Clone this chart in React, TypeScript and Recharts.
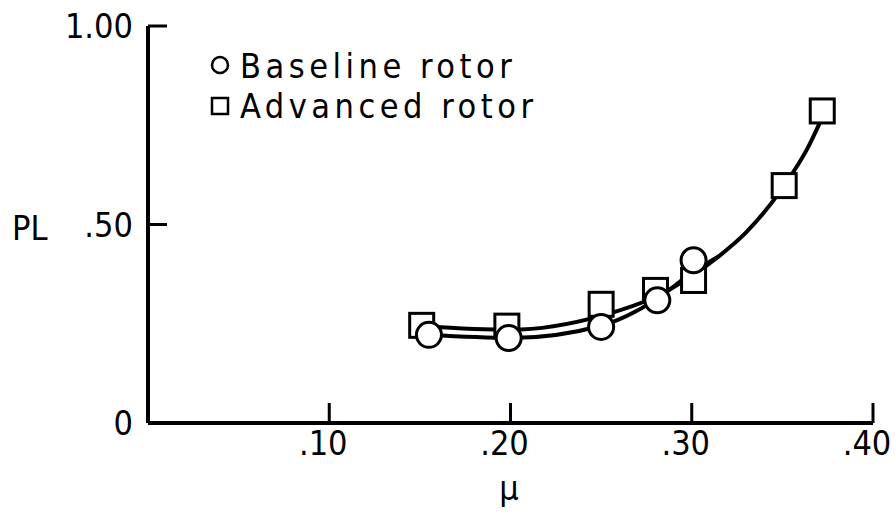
import React from 'react';
import { ComposedChart, Line, Scatter, XAxis, YAxis } from 'recharts';

// measured points
const baselineMu = [0.155, 0.199, 0.25, 0.281, 0.301];
const baselinePL = [0.222, 0.214, 0.242, 0.309, 0.41];
const advancedMu = [0.151, 0.198, 0.25, 0.28, 0.301, 0.351, 0.372];
const advancedPL = [0.246, 0.244, 0.299, 0.334, 0.359, 0.598, 0.786];

// faired curves
const baselineFitMu = [0.155, 0.2, 0.25, 0.28, 0.3, 0.315];
const baselineFitPL = [0.222, 0.214, 0.245, 0.31, 0.378, 0.42];
const advancedFitMu = [0.152, 0.2, 0.25, 0.28, 0.3, 0.315, 0.33, 0.351, 0.364, 0.372];
const advancedFitPL = [0.244, 0.235, 0.27, 0.318, 0.37, 0.42, 0.48, 0.598, 0.693, 0.77];

const xTicks = [0, 0.1, 0.2, 0.3, 0.4];
const xTickLabels = ['', '.10', '.20', '.30', '.40'];
const yTicks = [0, 0.5, 1];
const yTickLabels = ['0', '.50', '1.00'];

const FONT = "'DejaVu Sans Condensed', 'Liberation Sans Narrow', sans-serif";
const INK = '#000';

const zip = (xs: number[], ys: number[]) => xs.map((x, i) => ({ x, y: ys[i] }));

const baselinePts = zip(baselineMu, baselinePL);
const advancedPts = zip(advancedMu, advancedPL);
const baselineFit = zip(baselineFitMu, baselineFitPL);
const advancedFit = zip(advancedFitMu, advancedFitPL);

const XTick = ({ x, y, payload }: any) => {
  const label = xTickLabels[xTicks.indexOf(payload.value)] ?? '';
  if (!label) return null;
  return (
    <g>
      <line x1={x} y1={y} x2={x} y2={y - 20} stroke={INK} strokeWidth={3} />
      <text x={x - 6} y={y + 32} textAnchor="middle" fontFamily={FONT} fontSize={34} fill={INK}>{label}</text>
    </g>
  );
};

const YTick = ({ x, y, payload }: any) => {
  const label = yTickLabels[yTicks.indexOf(payload.value)] ?? '';
  return (
    <g>
      {payload.value !== 0 && <line x1={x} y1={y} x2={x + 19} y2={y} stroke={INK} strokeWidth={3} />}
      <text x={x - 15} y={y + 12} textAnchor="end" fontFamily={FONT} fontSize={34} fill={INK}>{label}</text>
    </g>
  );
};

const OpenCircle = ({ cx, cy }: any) => (
  <circle cx={cx} cy={cy} r={12.5} fill="#fff" stroke={INK} strokeWidth={3} />
);

const OpenSquare = ({ cx, cy }: any) => (
  <rect x={cx - 12} y={cy - 12} width={24} height={24} fill="#fff" stroke={INK} strokeWidth={3} />
);

export default function App() {
  return (
    <div style={{ position: 'fixed', left: 0, top: 0, width: 896, height: 521, background: '#fff' }}>
      <ComposedChart width={896} height={521} margin={{ top: 26, right: 23, bottom: 38, left: 88 }}>
        <XAxis
          type="number"
          dataKey="x"
          domain={[0, 0.4]}
          ticks={xTicks}
          height={60}
          tickSize={0}
          tickMargin={0}
          tickLine={false}
          axisLine={{ stroke: INK, strokeWidth: 4 }}
          tick={<XTick />}
          interval={0}
        />
        <YAxis
          type="number"
          dataKey="y"
          domain={[0, 1]}
          ticks={yTicks}
          width={60}
          tickSize={0}
          tickMargin={0}
          tickLine={false}
          axisLine={{ stroke: INK, strokeWidth: 4 }}
          tick={<YTick />}
          interval={0}
        />
        <Line data={baselineFit} dataKey="y" type="monotone" stroke={INK} strokeWidth={4} dot={false} isAnimationActive={false} />
        <Line data={advancedFit} dataKey="y" type="monotone" stroke={INK} strokeWidth={4} dot={false} isAnimationActive={false} />
        <Scatter data={advancedPts} dataKey="y" shape={<OpenSquare />} isAnimationActive={false} />
        <Scatter data={baselinePts} dataKey="y" shape={<OpenCircle />} isAnimationActive={false} />
      </ComposedChart>
      <svg width={896} height={521} style={{ position: 'absolute', left: 0, top: 0, pointerEvents: 'none' }}>
        <circle cx={220} cy={65} r={8} fill="none" stroke={INK} strokeWidth={2.5} />
        <text x={240} y={78} fontFamily={FONT} fontSize={34} letterSpacing={4.5} fill={INK}>Baseline rotor</text>
        <rect x={212} y={98} width={16} height={16} fill="none" stroke={INK} strokeWidth={2.5} />
        <text x={240} y={118} fontFamily={FONT} fontSize={34} letterSpacing={4.5} fill={INK}>Advanced rotor</text>
        <text x={12} y={240} fontFamily={FONT} fontSize={34} fill={INK}>PL</text>
        <text x={509} y={500} textAnchor="middle" fontFamily={FONT} fontSize={34} fill={INK}>μ</text>
      </svg>
    </div>
  );
}
